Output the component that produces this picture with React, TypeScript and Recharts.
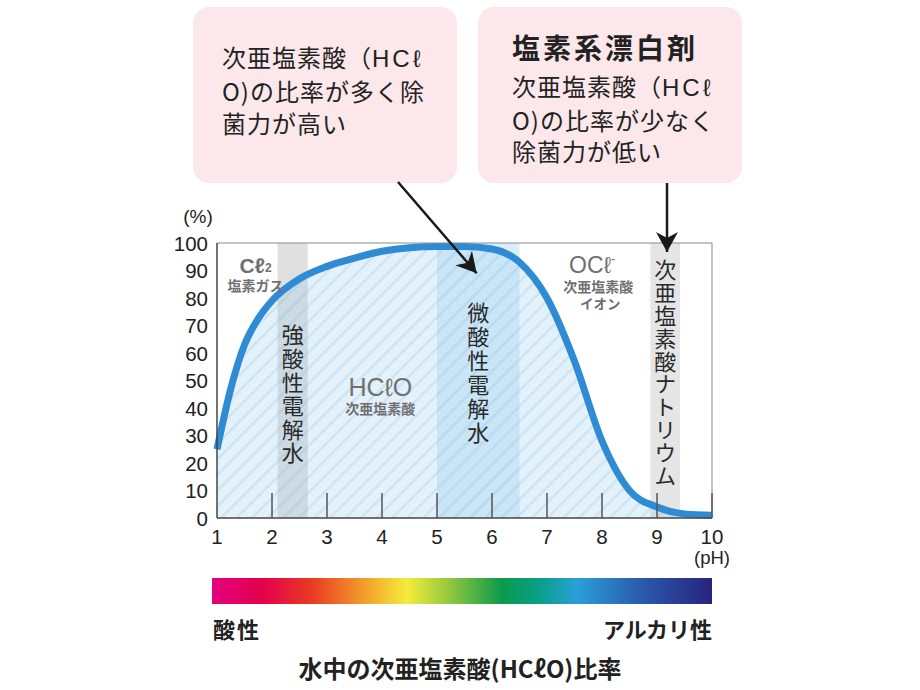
import React from 'react'
import {
  Area,
  ComposedChart,
  ReferenceArea,
  ReferenceDot,
  ReferenceLine,
  XAxis,
  YAxis,
} from 'recharts'

// pH と次亜塩素酸(HClO)の存在比率 (%)
const phValues = [1, 1.25, 1.5, 1.75, 2, 2.5, 3, 3.5, 4, 4.5, 5, 5.5, 6, 6.5, 7, 7.5, 8, 8.5, 9, 9.5, 10]
const hcloRatio = [25, 47, 63, 72.5, 79, 87, 91.5, 94.5, 97, 98.3, 98.7, 98.7, 97.8, 93, 80, 57, 28, 10, 4, 1.5, 1]

const xTicks = [1, 2, 3, 4, 5, 6, 7, 8, 9, 10]
const yTicks = [0, 10, 20, 30, 40, 50, 60, 70, 80, 90, 100]

// 帯の範囲 (pH)
const strongAcidBand = [2.1, 2.65]
const weakAcidBand = [5, 6.5]
const sodiumBand = [8.88, 9.42]

const data = phValues.map((ph, i) => ({ ph, ratio: hcloRatio[i] }))

const JP = "'Noto Sans CJK JP', 'Noto Sans', sans-serif"
const NUM = "'Liberation Sans', Arial, sans-serif"
const GRAY = '#707070'

function XTick(props: any) {
  const { x, y, payload } = props
  return (
    <g>
      {payload.value !== 1 && (
        <line x1={x} x2={x} y1={y} y2={y - 25} stroke="#555" strokeWidth={1.5} />
      )}
      <text x={x} y={y + 18} textAnchor="middle" dominantBaseline="central" fontSize={20.5} fill="#222" fontFamily={NUM}>
        {payload.value}
      </text>
      {payload.value === 10 && (
        <text x={x} y={y + 39} textAnchor="middle" dominantBaseline="central" fontSize={18.5} fill="#222" fontFamily={NUM}>
          (pH)
        </text>
      )}
    </g>
  )
}

function YTick(props: any) {
  const { x, y, payload } = props
  return (
    <g>
      <text x={x} y={y} textAnchor="end" dominantBaseline="central" fontSize={20.5} fill="#222" fontFamily={NUM}>
        {payload.value}
      </text>
      {payload.value === 100 && (
        <text x={x - 10} y={y - 27} textAnchor="middle" dominantBaseline="central" fontSize={19} fill="#222" fontFamily={NUM}>
          (%)
        </text>
      )}
    </g>
  )
}

// 縦書きラベル (帯の中央)
function verticalLabel(text: string, first: number, step: number) {
  return (p: any) => {
    const { x, y, width } = p.viewBox
    const cx = x + width / 2
    const size = 22
    return (
      <text
        x={cx}
        y={y + first - size / 2}
        writingMode="vertical-rl"
        style={{ writingMode: 'vertical-rl', letterSpacing: step - size }}
        fontSize={size}
        fill="#2a2a2a"
        fontFamily={JP}
      >
        {text}
      </text>
    )
  }
}

function center(p: any) {
  const { x, y, width = 0, height = 0 } = p.viewBox
  return { cx: x + width / 2, cy: y + height / 2 }
}

const cl2Label = (p: any) => {
  const { cx, cy } = center(p)
  return (
    <g fill={GRAY}>
      <text x={cx} y={cy} textAnchor="middle" dominantBaseline="central" fontSize={21} fontWeight="bold" fontFamily={NUM}>
        Cℓ<tspan fontSize={12} dy={3}>2</tspan>
      </text>
      <text x={cx} y={cy + 20} textAnchor="middle" dominantBaseline="central" fontSize={14} fontWeight="bold" fontFamily={JP}>
        塩素ガス
      </text>
    </g>
  )
}

const hcloLabel = (p: any) => {
  const { cx, cy } = center(p)
  return (
    <g fill={GRAY}>
      <text x={cx} y={cy - 1} textAnchor="middle" dominantBaseline="central" fontSize={25} fontFamily={NUM}>
        HCℓO
      </text>
      <text x={cx} y={cy + 20} textAnchor="middle" dominantBaseline="central" fontSize={14} fontWeight="bold" fontFamily={JP}>
        次亜塩素酸
      </text>
    </g>
  )
}

const oclLabel = (p: any) => {
  const { cx, cy } = center(p)
  return (
    <g fill={GRAY}>
      <text x={cx - 6} y={cy} textAnchor="middle" dominantBaseline="central" fontSize={23} fontFamily={NUM}>
        OCℓ<tspan fontSize={13} dy={-7}>-</tspan>
      </text>
      <text x={cx} y={cy + 21} textAnchor="middle" dominantBaseline="central" fontSize={14} fontWeight="bold" fontFamily={JP}>
        次亜塩素酸
      </text>
      <text x={cx + 2} y={cy + 38} textAnchor="middle" dominantBaseline="central" fontSize={13.5} fontWeight="bold" fontFamily={JP}>
        イオン
      </text>
    </g>
  )
}

function Chart() {
  return (
    <ComposedChart width={920} height={690} data={data} margin={{ top: 243, right: 208, bottom: 142, left: 167 }}>
      <defs>
        <pattern id="hatch" patternUnits="userSpaceOnUse" width="11" height="11" patternTransform="rotate(45)">
          <rect width="11" height="11" fill="rgba(150,205,238,0.27)" />
          <line x1="5.5" y1="0" x2="5.5" y2="11" stroke="rgba(100,165,215,0.2)" strokeWidth="2" />
        </pattern>
      </defs>
      <XAxis
        type="number"
        dataKey="ph"
        domain={[1, 10]}
        ticks={xTicks}
        interval={0}
        tickSize={0}
        tickMargin={0}
        tickLine={false}
        height={30}
        axisLine={{ stroke: '#444', strokeWidth: 1.5 }}
        tick={<XTick />}
      />
      <YAxis
        type="number"
        domain={[0, 100]}
        ticks={yTicks}
        interval={0}
        width={50}
        tickSize={0}
        tickMargin={9}
        tickLine={false}
        axisLine={{ stroke: '#444', strokeWidth: 1.5 }}
        tick={<YTick />}
      />
      <ReferenceArea x1={strongAcidBand[0]} x2={strongAcidBand[1]} fill="#8c8c8c" fillOpacity={0.27} stroke="none" />
      <ReferenceArea x1={weakAcidBand[0]} x2={weakAcidBand[1]} fill="#7cc2e8" fillOpacity={0.28} stroke="none" />
      <ReferenceArea x1={sodiumBand[0]} x2={sodiumBand[1]} fill="#9a9a9a" fillOpacity={0.26} stroke="none" />
      <Area
        type="monotone"
        dataKey="ratio"
        fill="url(#hatch)"
        fillOpacity={1}
        stroke="#2e8bd4"
        strokeWidth={7}
        dot={false}
        activeDot={false}
        isAnimationActive={false}
      />
      <ReferenceLine y={100} stroke="#8a8a8a" strokeWidth={1} />
      <ReferenceLine x={10} stroke="#8a8a8a" strokeWidth={1} />
      <ReferenceArea x1={strongAcidBand[0]} x2={strongAcidBand[1]} fill="none" stroke="none" label={verticalLabel('強酸性電解水', 92, 23.6)} />
      <ReferenceArea x1={weakAcidBand[0]} x2={weakAcidBand[1]} fill="none" stroke="none" label={verticalLabel('微酸性電解水', 70, 24)} />
      <ReferenceArea x1={sodiumBand[0]} x2={sodiumBand[1]} fill="none" stroke="none" label={verticalLabel('次亜塩素酸ナトリウム', 27, 22.8)} />
      <ReferenceDot x={1.7} y={92} r={0} fill="none" stroke="none" label={cl2Label} />
      <ReferenceDot x={3.97} y={47.4} r={0} fill="none" stroke="none" label={hcloLabel} />
      <ReferenceDot x={7.93} y={92} r={0} fill="none" stroke="none" label={oclLabel} />
    </ComposedChart>
  )
}

const boxStyle: React.CSSProperties = {
  position: 'absolute',
  top: 7,
  width: 264,
  height: 176,
  background: '#fce8eb',
  borderRadius: 16,
}

const lineStyle: React.CSSProperties = {
  position: 'absolute',
  fontSize: 24,
  lineHeight: '32px',
  color: '#222',
  letterSpacing: 1,
  whiteSpace: 'pre',
}

const latin = <span style={{ letterSpacing: 3, fontFamily: NUM }}>HCℓ</span>

export default function App() {
  return (
    <div style={{ position: 'absolute', left: 0, top: 0, width: 920, height: 690, background: '#fff', fontFamily: JP }}>
      <div style={{ ...boxStyle, left: 193 }} />
      <div style={{ ...boxStyle, left: 478 }} />
      <div style={{ ...lineStyle, left: 222, top: 41 }}>
        <div>次亜塩素酸（{latin}</div>
        <div>O)の比率が多く除</div>
        <div>菌力が高い</div>
      </div>
      <div style={{ position: 'absolute', left: 512, top: 28, fontSize: 28, lineHeight: '38px', fontWeight: 'bold', letterSpacing: 3, color: '#222' }}>
        塩素系漂白剤
      </div>
      <div style={{ ...lineStyle, left: 512, top: 70, lineHeight: '31.5px' }}>
        <div>次亜塩素酸（{latin}</div>
        <div>O)の比率が少なく</div>
        <div>除菌力が低い</div>
      </div>

      <div style={{ position: 'absolute', left: 0, top: 0 }}>
        <Chart />
      </div>

      <svg width={920} height={690} style={{ position: 'absolute', left: 0, top: 0, pointerEvents: 'none' }}>
        <defs>
          <marker id="ah" markerWidth="22" markerHeight="22" refX="20" refY="11" orient="auto" markerUnits="userSpaceOnUse">
            <path d="M0,0 L20,11 L0,22 L6,11 Z" fill="#1a1a1a" />
          </marker>
        </defs>
        <line x1={398} y1={182} x2={476.7} y2={273.3} stroke="#1a1a1a" strokeWidth={2.5} markerEnd="url(#ah)" />
        <line x1={667} y1={183} x2={667} y2={252} stroke="#1a1a1a" strokeWidth={2.5} markerEnd="url(#ah)" />
      </svg>

      <div
        style={{
          position: 'absolute',
          left: 212,
          top: 578,
          width: 500,
          height: 26,
          background:
            'linear-gradient(to right, #e4007f 0%, #e4004c 10%, #e83b22 20%, #f29a2a 30%, #f5ec3a 39%, #8cc63f 48%, #0a9a4a 58%, #0aa08d 66%, #2a9fd8 73%, #2a5aab 86%, #27237f 100%)',
        }}
      />
      <div style={{ position: 'absolute', left: 213, top: 616, fontSize: 22, lineHeight: '24px', fontWeight: 'bold', letterSpacing: 2, color: '#222' }}>
        酸性
      </div>
      <div style={{ position: 'absolute', right: 208, top: 616, fontSize: 22, lineHeight: '24px', fontWeight: 'bold', color: '#222' }}>
        アルカリ性
      </div>
      <div style={{ position: 'absolute', left: 0, width: 920, top: 655, textAlign: 'center', fontSize: 24, lineHeight: '26px', fontWeight: 'bold', color: '#222' }}>
        水中の次亜塩素酸(HCℓO)比率
      </div>
    </div>
  )
}
